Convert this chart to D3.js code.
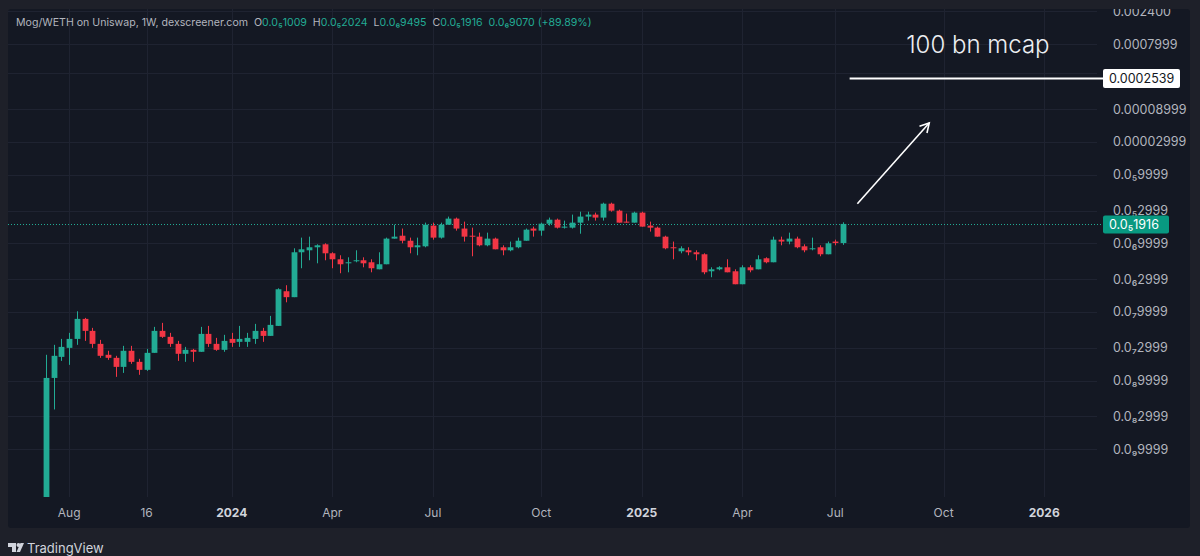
<!DOCTYPE html>
<html>
<head>
<meta charset="utf-8">
<script src="https://cdn.jsdelivr.net/npm/d3@7"></script>
<style>
  html, body { margin: 0; padding: 0; background: #1e2029; }
  svg { display: block; font-family: Inter, "Noto Sans", "DejaVu Sans", sans-serif; }
</style>
</head>
<body>
<svg id="chart" width="1200" height="556"></svg>
<script>
// weekly candles, Mog/WETH (prices in WETH)
var firstWeek = "2023-07-17";
var lastWeek = "2025-07-07";

var open = [1.5e-10,1.09e-8,2.21e-8,2.99e-8,4.04e-8,7.91e-8,5.29e-8,3.42e-8,2.37e-8,2.14e-8,
  1.58e-8,2.71e-8,1.87e-8,1.43e-8,2.53e-8,5.29e-8,4.33e-8,3.42e-8,2.45e-8,2.8e-8,
  2.62e-8,4.78e-8,3.42e-8,2.8e-8,4.04e-8,3.66e-8,3.66e-8,4.04e-8,5.29e-8,4.47e-8,
  6.25e-8,2.0e-7,1.64e-7,7.4e-7,7.91e-7,8.75e-7,9.67e-7,7.15e-7,5.85e-7,5.11e-7,
  5.47e-7,5.66e-7,5.29e-7,4.18e-7,4.95e-7,1.17e-6,1.29e-6,1.09e-6,8.75e-7,9.04e-7,
  1.81e-6,1.21e-6,1.87e-6,2.29e-6,1.64e-6,1.29e-6,1.25e-6,9.35e-7,1.17e-6,8.75e-7,
  7.91e-7,8.75e-7,1.09e-6,1.64e-6,1.53e-6,1.93e-6,2.21e-6,1.69e-6,1.69e-6,2.0e-6,
  2.45e-6,2.62e-6,2.37e-6,3.78e-6,2.99e-6,2.07e-6,2.0e-6,2.8e-6,1.81e-6,1.69e-6,
  1.25e-6,8.75e-7,7.65e-7,7.91e-7,7.4e-7,6.92e-7,3.91e-7,4.18e-7,4.47e-7,3.91e-7,
  2.53e-7,4.47e-7,4.18e-7,6.05e-7,5.29e-7,1.13e-6,1.06e-6,1.17e-6,9.04e-7,8.18e-7,
  8.75e-7,6.92e-7,1.06e-6,1.009e-6];
var high = [2.37e-8,3.31e-8,4.04e-8,4.95e-8,1.02e-7,8.18e-8,5.85e-8,3.91e-8,2.71e-8,2.29e-8,
  3.2e-8,3.2e-8,2.07e-8,2.89e-8,6.05e-8,6.92e-8,4.95e-8,3.78e-8,3.09e-8,2.89e-8,
  6.05e-8,6.25e-8,4.18e-8,4.63e-8,4.95e-8,6.25e-8,4.95e-8,6.69e-8,5.85e-8,8.75e-8,
  2.21e-7,2.45e-7,8.46e-7,1.21e-6,1.25e-6,9.67e-7,1.0e-6,7.4e-7,6.69e-7,6.25e-7,
  7.91e-7,6.25e-7,5.85e-7,7.4e-7,1.21e-6,1.87e-6,1.64e-6,1.21e-6,1.21e-6,2.0e-6,
  2.0e-6,2.0e-6,2.45e-6,2.37e-6,2.07e-6,1.69e-6,1.43e-6,1.43e-6,1.21e-6,9.35e-7,
  1.06e-6,1.21e-6,1.64e-6,1.75e-6,2.0e-6,2.37e-6,2.29e-6,2.14e-6,2.62e-6,2.89e-6,
  2.89e-6,2.8e-6,3.91e-6,3.91e-6,3.09e-6,2.71e-6,2.89e-6,2.89e-6,2.07e-6,1.75e-6,
  1.29e-6,1.06e-6,9.04e-7,8.75e-7,7.91e-7,7.15e-7,4.47e-7,4.63e-7,5.85e-7,4.18e-7,
  4.78e-7,4.78e-7,6.69e-7,6.25e-7,1.25e-6,1.25e-6,1.43e-6,1.25e-6,9.67e-7,1.21e-6,
  9.35e-7,1.06e-6,1.13e-6,2.024e-6];
var low = [1.5e-10,3.78e-9,1.93e-8,1.69e-8,3.31e-8,3.78e-8,2.99e-8,2.14e-8,2.0e-8,1.13e-8,
  1.29e-8,1.75e-8,1.21e-8,1.38e-8,2.53e-8,4.18e-8,3.09e-8,1.93e-8,1.87e-8,1.87e-8,
  2.62e-8,3.09e-8,2.71e-8,2.62e-8,3.09e-8,3.09e-8,3.09e-8,3.42e-8,3.66e-8,4.47e-8,
  6.25e-8,1.38e-7,1.64e-7,4.33e-7,5.66e-7,5.11e-7,5.66e-7,4.33e-7,3.66e-7,3.78e-7,
  5.29e-7,4.47e-7,3.78e-7,4.18e-7,4.95e-7,1.17e-6,1.0e-6,7.15e-7,6.69e-7,8.75e-7,
  1.13e-6,1.17e-6,1.87e-6,1.53e-6,1.06e-6,6.47e-7,9.04e-7,9.04e-7,8.18e-7,6.69e-7,
  7.65e-7,8.46e-7,1.09e-6,1.25e-6,1.29e-6,1.81e-6,1.64e-6,1.64e-6,1.64e-6,1.38e-6,
  2.14e-6,2.14e-6,2.14e-6,2.89e-6,2.0e-6,2.0e-6,2.0e-6,1.75e-6,1.48e-6,1.25e-6,
  8.18e-7,5.85e-7,7.15e-7,6.69e-7,5.66e-7,3.54e-7,3.2e-7,4.04e-7,3.78e-7,2.53e-7,
  2.53e-7,3.78e-7,4.18e-7,5.11e-7,5.29e-7,9.35e-7,9.67e-7,8.46e-7,7.4e-7,7.91e-7,
  6.47e-7,6.92e-7,9.35e-7,9.495e-7];
var close = [1.09e-8,2.29e-8,3.09e-8,4.04e-8,7.91e-8,5.29e-8,3.42e-8,2.29e-8,2.14e-8,1.58e-8,
  2.71e-8,1.87e-8,1.43e-8,2.53e-8,5.29e-8,4.33e-8,3.42e-8,2.45e-8,2.8e-8,2.62e-8,
  4.78e-8,3.42e-8,2.8e-8,3.78e-8,3.54e-8,4.04e-8,4.18e-8,5.29e-8,4.47e-8,6.47e-8,
  2.14e-7,1.64e-7,7.4e-7,8.18e-7,8.75e-7,9.35e-7,7.15e-7,5.85e-7,4.95e-7,5.29e-7,
  5.66e-7,5.11e-7,4.33e-7,4.95e-7,1.17e-6,1.25e-6,1.09e-6,8.75e-7,9.35e-7,1.87e-6,
  1.21e-6,1.87e-6,2.29e-6,1.64e-6,1.25e-6,1.25e-6,9.35e-7,1.17e-6,8.18e-7,7.91e-7,
  8.75e-7,1.09e-6,1.58e-6,1.53e-6,1.93e-6,2.21e-6,1.69e-6,1.75e-6,2.0e-6,2.45e-6,
  2.62e-6,2.37e-6,3.78e-6,2.99e-6,2.0e-6,2.0e-6,2.8e-6,1.75e-6,1.69e-6,1.25e-6,
  8.46e-7,8.46e-7,8.46e-7,7.4e-7,6.92e-7,3.78e-7,4.18e-7,4.47e-7,3.78e-7,2.53e-7,
  4.47e-7,4.04e-7,5.85e-7,5.29e-7,1.13e-6,1.06e-6,1.17e-6,8.75e-7,7.91e-7,8.46e-7,
  6.92e-7,1.0e-6,1.009e-6,1.916e-6];

// price axis
var priceTicks = [2.4e-3,7.999e-4,2.999e-4,8.999e-5,2.999e-5,9.999e-6,2.999e-6,9.999e-7,2.999e-7,9.999e-8,2.999e-8,9.999e-9,2.999e-9,9.999e-10];
var priceLabels = ["0.002400","0.0007999","","0.00008999","0.00002999","0.0₅9999","0.0₅2999","0.0₆9999","0.0₆2999","0.0₇9999","0.0₇2999","0.0₈9999","0.0₈2999","0.0₉9999"];

// time axis
var timeTicks = ["2023-08-07","2023-10-16","2024-01-01","2024-04-01","2024-07-01","2024-10-07","2025-01-06","2025-04-07","2025-06-30","2025-10-06","2026-01-05"];
var timeLabels = ["Aug","16","2024","Apr","Jul","Oct","2025","Apr","Jul","Oct","2026"];
var yearLabels = ["2024","2025","2026"];

// legend values
var header = [["Mog/WETH on Uniswap, 1W, dexscreener.com  O","#b2b5be"],["0.0₅1009","#22ab94"],["  H","#b2b5be"],["0.0₅2024","#22ab94"],
  ["  L","#b2b5be"],["0.0₆9495","#22ab94"],["  C","#b2b5be"],["0.0₅1916","#22ab94"],["  0.0₆9070 (+89.89%)","#22ab94"]];
var lastPrice = 1.916e-6, lastLabel = "0.0₅1916";

// drawing: target line, arrow, note
var targetPrice = 2.539e-4, targetLabel = "0.0002539", targetFrom = "2025-07-13";
var arrowFrom = ["2025-07-20", 3.78e-6], arrowTo = ["2025-09-23", 5.68e-5];
var note = "100 bn mcap", noteAt = ["2025-11-06", 5.95e-4];

var up = "#22ab94", down = "#f23645";
var parse = d3.utcParse("%Y-%m-%d");

var svg = d3.select("#chart");
var plotL = 8, plotR = 1097, plotT = 9, plotB = 497;

var x = d3.scaleUtc().domain([parse(firstWeek), parse(lastWeek)]).range([46, 843]);
var y = d3.scaleLog().domain([1e-10, 1e-2]).range([517.7, -31.1]);

var weeks = d3.utcMonday.range(parse(firstWeek), d3.utcDay.offset(parse(lastWeek), 1));
var candles = weeks.map(function(d, i) {
  return {date: d, o: open[i], h: high[i], l: low[i], c: close[i]};
});

// panel
svg.append("rect").attr("width", 1200).attr("height", 556).attr("fill", "#1e2029");
svg.append("rect").attr("x", 8).attr("y", 9).attr("width", 1182).attr("height", 519)
  .attr("rx", 3).attr("fill", "#141823");

svg.append("clipPath").attr("id", "plot").append("rect")
  .attr("x", plotL).attr("y", plotT).attr("width", plotR - plotL).attr("height", plotB - plotT);
svg.append("clipPath").attr("id", "panel").append("rect")
  .attr("x", 8).attr("y", 9).attr("width", 1182).attr("height", 519);

var grid = svg.append("g").attr("clip-path", "url(#plot)");
grid.selectAll(".hg").data(priceTicks).enter().append("line")
  .attr("x1", plotL).attr("x2", plotR)
  .attr("y1", function(d) { return Math.round(y(d)) + 0.5; })
  .attr("y2", function(d) { return Math.round(y(d)) + 0.5; })
  .attr("stroke", "#1f2331").attr("stroke-width", 1);
grid.selectAll(".vg").data(timeTicks).enter().append("line")
  .attr("y1", plotT).attr("y2", plotB)
  .attr("x1", function(d) { return Math.round(x(parse(d))) + 0.5; })
  .attr("x2", function(d) { return Math.round(x(parse(d))) + 0.5; })
  .attr("stroke", "#1f2331").attr("stroke-width", 1);

// current price line
svg.append("line").attr("x1", plotL).attr("x2", 1103)
  .attr("y1", Math.round(y(lastPrice)) + 0.5).attr("y2", Math.round(y(lastPrice)) + 0.5)
  .attr("stroke", up).attr("stroke-width", 1).attr("stroke-dasharray", "1,2");

// candles
var g = svg.append("g").attr("clip-path", "url(#plot)");
var bw = 5.8;
var c = g.selectAll(".candle").data(candles).enter().append("g");
c.append("line")
  .attr("x1", function(d) { return Math.round(x(d.date)) + 0.5; })
  .attr("x2", function(d) { return Math.round(x(d.date)) + 0.5; })
  .attr("y1", function(d) { return y(d.h); })
  .attr("y2", function(d) { return y(d.l); })
  .attr("stroke", function(d) { return d.c >= d.o ? up : down; });
c.append("rect")
  .attr("x", function(d) { return Math.round(x(d.date)) + 0.5 - bw / 2; })
  .attr("width", bw)
  .attr("y", function(d) { return y(Math.max(d.o, d.c)); })
  .attr("height", function(d) { return Math.max(1, Math.abs(y(d.o) - y(d.c))); })
  .attr("fill", function(d) { return d.c >= d.o ? up : down; });

// drawings
var ty = Math.round(y(targetPrice)) + 0.5;
svg.append("line").attr("x1", x(parse(targetFrom))).attr("x2", 1103)
  .attr("y1", ty).attr("y2", ty).attr("stroke", "#ffffff").attr("stroke-width", 2);

svg.append("defs").append("marker").attr("id", "head")
  .attr("viewBox", "0 0 12 12").attr("refX", 10).attr("refY", 6)
  .attr("markerWidth", 12).attr("markerHeight", 12).attr("markerUnits", "userSpaceOnUse")
  .attr("orient", "auto")
  .append("path").attr("d", "M1,1 L10,6 L1,11").attr("fill", "none")
  .attr("stroke", "#ffffff").attr("stroke-width", 1.6);
svg.append("line")
  .attr("x1", x(parse(arrowFrom[0]))).attr("y1", y(arrowFrom[1]))
  .attr("x2", x(parse(arrowTo[0]))).attr("y2", y(arrowTo[1]))
  .attr("stroke", "#ffffff").attr("stroke-width", 1.6).attr("marker-end", "url(#head)");

svg.append("text").attr("x", x(parse(noteAt[0]))).attr("y", y(noteAt[1]))
  .attr("text-anchor", "middle").attr("fill", "#eceef2")
  .attr("font-size", 24).attr("font-weight", 300).text(note);

// price axis
var ax = svg.append("g").attr("clip-path", "url(#panel)");
ax.selectAll(".pl").data(priceTicks).enter().append("text")
  .attr("x", 1113).attr("y", function(d) { return y(d) + 4.5; })
  .attr("fill", "#b2b5be").attr("font-size", 12.5)
  .text(function(d, i) { return priceLabels[i]; });

svg.append("rect").attr("x", 1103).attr("y", ty - 9.5).attr("width", 77).attr("height", 19)
  .attr("rx", 2).attr("fill", "#ffffff");
svg.append("text").attr("x", 1109).attr("y", ty + 4.5).attr("fill", "#131722")
  .attr("font-size", 12.5).text(targetLabel);

var ly = Math.round(y(lastPrice)) + 0.5;
svg.append("rect").attr("x", 1103).attr("y", ly - 9).attr("width", 66).attr("height", 18)
  .attr("rx", 2).attr("fill", "#089981");
svg.append("text").attr("x", 1109).attr("y", ly + 4.5).attr("fill", "#ffffff")
  .attr("font-size", 12.5).text(lastLabel);

// time axis
svg.selectAll(".tl").data(timeTicks).enter().append("text")
  .attr("x", function(d) { return x(parse(d)); })
  .attr("y", 517).attr("text-anchor", "middle").attr("font-size", 12)
  .attr("font-weight", function(d, i) { return yearLabels.indexOf(timeLabels[i]) >= 0 ? 700 : 400; })
  .attr("fill", function(d, i) { return yearLabels.indexOf(timeLabels[i]) >= 0 ? "#d1d4dc" : "#b2b5be"; })
  .text(function(d, i) { return timeLabels[i]; });

// legend
var ht = svg.append("text").attr("x", 16).attr("y", 26).attr("font-size", 10.6)
  .attr("xml:space", "preserve").style("white-space", "pre");
header.forEach(function(h) {
  ht.append("tspan").attr("fill", h[1]).text(h[0]);
});

// footer
var logo = svg.append("g").attr("transform", "translate(8,543)").attr("fill", "#d1d4dc");
logo.append("path").attr("d", "M0,0 H8 V9 H4 V4 H0 Z");
logo.append("circle").attr("cx", 10.5).attr("cy", 2).attr("r", 2);
logo.append("path").attr("d", "M12.5,0 H16 L12,9 H8.5 Z");
svg.append("text").attr("x", 27).attr("y", 553).attr("fill", "#d1d4dc")
  .attr("font-size", 13).text("TradingView");
</script>
</body>
</html>
